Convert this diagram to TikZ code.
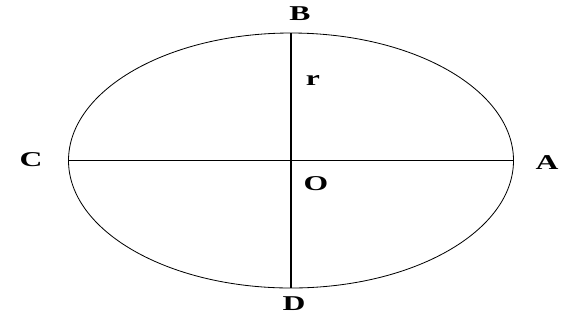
\documentclass[tikz,border=0pt]{standalone}
\usepackage{fontspec}
\setmainfont{Liberation Serif}
\tikzset{
  lbl/.style={font=\bfseries\fontsize{18}{18}\selectfont, inner sep=0pt},
}
\newcommand{\wide}[1]{\scalebox{1.5}[1]{#1}}
\begin{document}
\begin{tikzpicture}[x=0.03cm,y=-0.03cm]
\useasboundingbox (0,0) rectangle (569,323);

\coordinate (O) at (291,160.5);
\draw[line width=0.7pt] (O) ellipse [x radius=222.5, y radius=127.5];

\coordinate (top) at (291,33);
\coordinate (bot) at (291,288);
\coordinate (lft) at (68.5,160.5);
\coordinate (rgt) at (513.5,160.5);
\draw[line width=1pt] (top) -- (bot);
\draw[line width=1pt] (lft) -- (rgt);

\node[lbl] (B) at (300,14) {\wide{B}};
\node[lbl] (D) at (294,304) {\wide{D}};
\node[lbl] (C) at (31,160) {\wide{C}};
\node[lbl] (A) at (547,163) {\wide{A}};
\node[lbl] (Olbl) at (316,184) {\wide{O}};
\node[lbl] (r) at (313,80) {\wide{r}};
\end{tikzpicture}
\end{document}
